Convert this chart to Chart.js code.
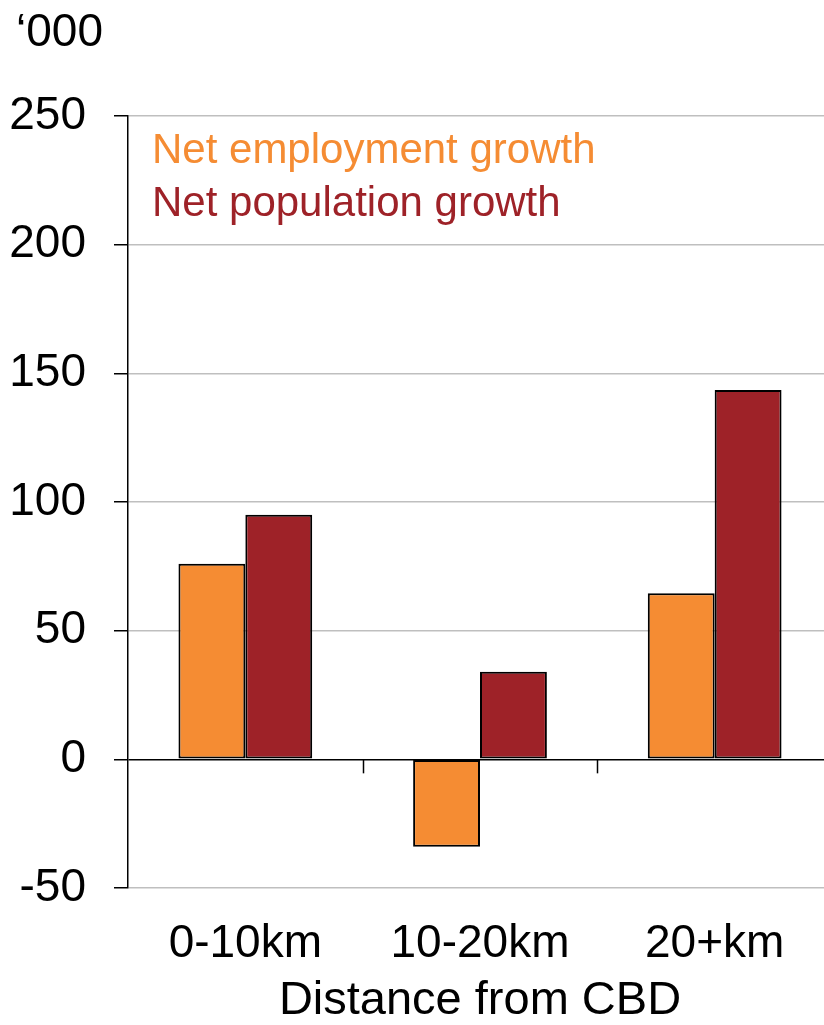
<!DOCTYPE html>
<html lang="en">

<head>
    <meta charset="UTF-8">
    <title>Employment and population growth by distance from CBD</title>
    <script src="https://cdn.jsdelivr.net/npm/chart.js@4.4.1/dist/chart.umd.min.js"></script>
    <style>
        html,
        body {
            margin: 0;
            padding: 0;
            overflow: hidden;
            background: #fff;
        }

        .chart-container {
            width: 832px;
            height: 1025px;
        }
    </style>
</head>

<body>
    <div class="chart-container">
        <canvas id="myChart"></canvas>
    </div>

    <script>
        const categories = ['0-10km', '10-20km', '20+km'];
        const employment = [76, -34, 64.5];
        const population = [95, 34, 143.5];
        const yTicks = [-50, 0, 50, 100, 150, 200, 250];

        const FONT = 'Liberation Sans, Arial, sans-serif';
        const ORANGE = '#F58C33';
        const RED = '#9E2228';

        // unit label, legend text and the small ticks on the zero line
        const extras = {
            id: 'extras',
            afterDraw(chart) {
                const { ctx, scales } = chart;
                ctx.save();
                ctx.fillStyle = '#000';
                ctx.font = '46px ' + FONT;
                ctx.textBaseline = 'middle';
                ctx.textAlign = 'left';
                ctx.fillText('\u2018000', 16, 33);

                ctx.font = '42px ' + FONT;
                chart.data.datasets.forEach((ds, i) => {
                    ctx.fillStyle = ds.backgroundColor;
                    ctx.fillText(ds.label, 152, 151 + i * 53);
                });

                const x = scales.x;
                const y0 = scales.y.getPixelForValue(0);
                const step = x.getPixelForValue(1) - x.getPixelForValue(0);
                ctx.strokeStyle = '#000';
                ctx.lineWidth = 1.5;
                for (let i = 1; i < categories.length; i++) {
                    const px = Math.round(x.getPixelForValue(i) - step / 2) + 0.5;
                    ctx.beginPath();
                    ctx.moveTo(px, y0);
                    ctx.lineTo(px, y0 + 14);
                    ctx.stroke();
                }
                ctx.restore();
            }
        };

        const data = {
            labels: categories,
            datasets: [{
                    label: 'Net employment growth',
                    data: employment,
                    backgroundColor: ORANGE,
                    borderColor: '#000',
                    borderWidth: 2,
                    borderSkipped: false
                },
                {
                    label: 'Net population growth',
                    data: population,
                    backgroundColor: RED,
                    borderColor: '#000',
                    borderWidth: 2,
                    borderSkipped: false
                }
            ]
        };

        const config = {
            type: 'bar',
            data,
            options: {
                responsive: true,
                maintainAspectRatio: false,
                animation: false,
                categoryPercentage: 0.57,
                barPercentage: 1,
                layout: {
                    padding: { top: 116, left: 0, right: 0, bottom: 0 }
                },
                scales: {
                    y: {
                        min: -50,
                        max: 250,
                        afterBuildTicks: axis => {
                            axis.ticks = yTicks.map(v => ({ value: v }));
                        },
                        afterFit: axis => {
                            axis.width = 128;
                        },
                        grid: {
                            color: c => c.tick && c.tick.value === 0 ? '#000' : '#BFBFBF',
                            lineWidth: 1.5,
                            tickColor: '#000',
                            tickLength: 14
                        },
                        border: {
                            color: '#000',
                            width: 1.5
                        },
                        ticks: {
                            color: '#000',
                            padding: 28,
                            font: { size: 46, family: FONT }
                        }
                    },
                    x: {
                        afterFit: axis => {
                            axis.height = 137;
                        },
                        grid: { display: false, drawTicks: false },
                        border: { display: false },
                        ticks: {
                            color: '#000',
                            padding: 33,
                            font: { size: 46, family: FONT, lineHeight: 1 }
                        },
                        title: {
                            display: true,
                            text: 'Distance from CBD',
                            color: '#000',
                            font: { size: 47, family: FONT, lineHeight: 1 },
                            padding: { top: 12, bottom: 0 }
                        }
                    }
                },
                plugins: {
                    legend: { display: false },
                    tooltip: { enabled: false }
                }
            },
            plugins: [extras]
        };

        const ctx = document.getElementById('myChart').getContext('2d');
        const myChart = new Chart(ctx, config);
    </script>
</body>

</html>
